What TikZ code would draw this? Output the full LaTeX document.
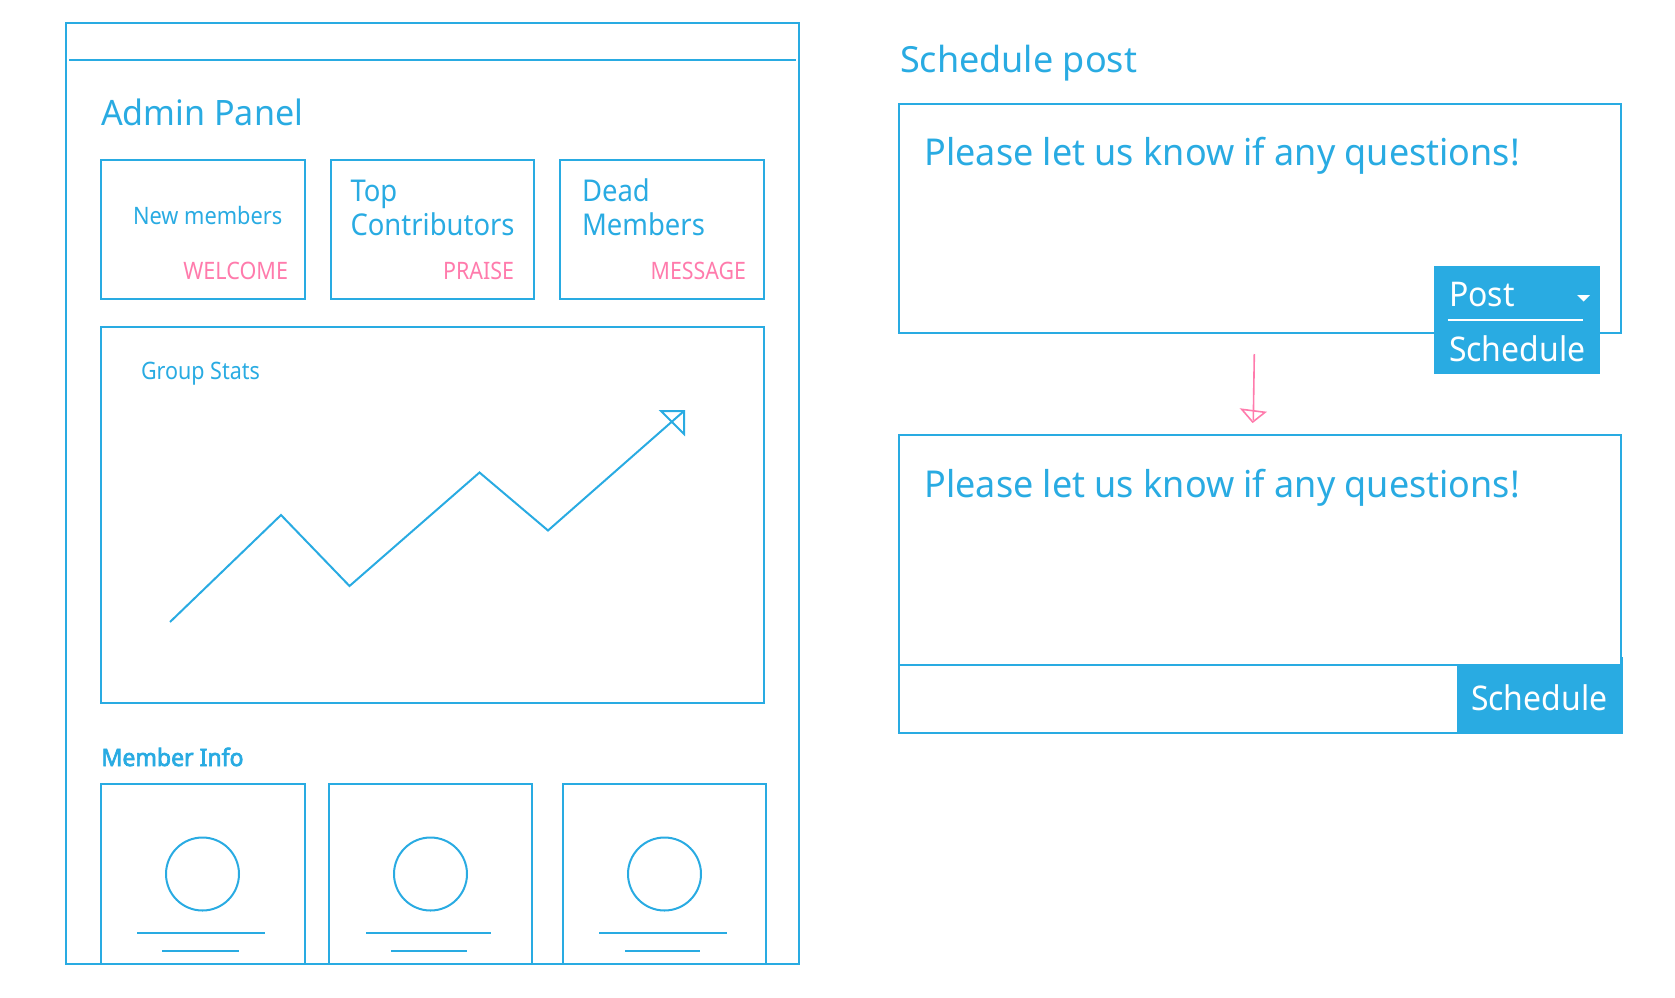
\documentclass[tikz,border=0pt]{standalone}
\usepackage{fontspec}
\setmainfont{Noto Sans}
\newfontfamily\heavyfont[FakeBold=3]{Noto Sans}
\definecolor{bl}{HTML}{29ABE2}
\definecolor{pk}{HTML}{FF7BAC}
\tikzset{
  x=1pt,y=-1pt,
  wire/.style={draw=bl,line width=2pt},
  frame/.style={wire,rectangle,anchor=north west,inner sep=0pt,outer sep=0pt,minimum width=#1},
  frame/.default=203.5pt,
  solid block/.style={fill=bl,rectangle,anchor=north west,inner sep=0pt,outer sep=0pt},
  ring/.style={wire,circle,minimum size=73pt,inner sep=0pt,outer sep=0pt},
  txt/.style={anchor=base west,inner sep=0pt,outer sep=0pt,text=bl},
  rtxt/.style={anchor=base east,inner sep=0pt,outer sep=0pt,text=pk},
  wtxt/.style={anchor=base west,inner sep=0pt,outer sep=0pt,text=white},
}
\newcommand{\fs}[1]{\fontsize{#1}{#1}\selectfont}
\begin{document}
\begin{tikzpicture}
\useasboundingbox (0,0) rectangle (1675,998);
% left panel
\node[frame=732.5pt,minimum height=940pt] (panel) at (66,23.5) {};
\coordinate (hl) at (69,60.5); \coordinate (hr) at (796,60.5);
\draw[wire] (hl) -- (hr);
\node[txt,font=\fs{35}] (admin) at (101,125) {\scalebox{0.974}[1]{Admin Panel}};
% stat cards
\node[frame,minimum height=139pt] (c1) at (101,160) {};
\node[frame,minimum height=139pt] (c2) at (330.5,160) {};
\node[frame,minimum height=139pt] (c3) at (560,160) {};
\node[txt,font=\fs{24}] (t1) at (133,224.5) {\scalebox{0.907}[1]{New members}};
\node[txt,font=\fs{30}] (t2a) at (350.5,201) {\scalebox{0.915}[1]{Top}};
\node[txt,font=\fs{30}] (t2b) at (350.5,235) {\scalebox{0.915}[1]{Contributors}};
\node[txt,font=\fs{30}] (t3a) at (582,201) {\scalebox{0.915}[1]{Dead}};
\node[txt,font=\fs{30}] (t3b) at (582,235) {\scalebox{0.915}[1]{Members}};
\node[rtxt,font=\fs{24}] (a1) at (288,279.5) {\scalebox{0.90}[1]{WELCOME}};
\node[rtxt,font=\fs{24}] (a2) at (514,279.5) {\scalebox{0.893}[1]{PRAISE}};
\node[rtxt,font=\fs{24}] (a3) at (746,279.5) {\scalebox{0.89}[1]{MESSAGE}};
% chart
\node[frame=662.5pt,minimum height=376pt] (chart) at (101,327) {};
\node[txt,font=\fs{24}] (gs) at (141,379) {\scalebox{0.896}[1]{Group Stats}};
\coordinate (p0) at (170,622);
\coordinate (p1) at (281,515);
\coordinate (p2) at (349.5,586);
\coordinate (p3) at (479.5,472.5);
\coordinate (p4) at (548,530.5);
\coordinate (p5) at (684,411);
\coordinate (h1) at (661,411);
\coordinate (h2) at (684,434);
\draw[wire] (p0) -- (p1) -- (p2) -- (p3) -- (p4) -- (p5);
\draw[wire,line join=miter] (h1) -- (p5) -- (h2) -- cycle;
% member cards
\node[txt,font=\heavyfont\fs{24}] (mi) at (101.5,766) {\scalebox{0.96}[1]{Member Info}};
\node[frame,minimum height=179.5pt] (m1) at (101,784) {};
\node[frame=203pt,minimum height=179.5pt] (m2) at (329,784) {};
\node[frame=203pt,minimum height=179.5pt] (m3) at (563,784) {};
\node[ring] (r1) at (202.5,874) {};
\node[ring] (r2) at (430.5,874) {};
\node[ring] (r3) at (664.5,874) {};
\foreach \n/\a/\b/\c/\d in {1/137/265/162/239,2/366/491/391/467,3/599/727/625/700}{
  \coordinate (la\n) at (\a,933); \coordinate (lb\n) at (\b,933);
  \coordinate (lc\n) at (\c,951); \coordinate (ld\n) at (\d,951);
  \draw[wire] (la\n) -- (lb\n);
  \draw[wire] (lc\n) -- (ld\n);
}
% right panel
\node[txt,font=\fs{36}] (sp) at (900,73) {Schedule post};
\node[frame=721.5pt,minimum height=229.5pt] (box1) at (899,103.5) {};
\node[txt,font=\fs{37}] (q1) at (924.5,165) {\scalebox{0.972}[1]{Please let us know if any questions!}};
\node[solid block,minimum width=165.5pt,minimum height=108pt] (menu) at (1434,266) {};
\node[wtxt,font=\fs{34}] (post) at (1449,306) {\scalebox{0.94}[1]{Post}};
\coordinate (ml) at (1447.5,320); \coordinate (mr) at (1583,320);
\draw[white,line width=2pt] (ml) -- (mr);
\coordinate (ca) at (1577,295); \coordinate (cb) at (1590,295); \coordinate (cc) at (1583.5,301.5);
\fill[white] (ca) -- (cb) -- (cc) -- cycle;
\node[wtxt,font=\fs{34}] (sch1) at (1449,361) {\scalebox{0.94}[1]{Schedule}};
% arrow
\coordinate (as) at (1254.3,354); \coordinate (ae) at (1253.3,420);
\coordinate (t1c) at (1241.7,409.3); \coordinate (t2c) at (1265,412.3); \coordinate (t3c) at (1252.7,422);
\draw[pk,line width=1.6pt] (as) -- (ae);
\draw[pk,line width=1.6pt] (t1c) -- (t2c) -- (t3c) -- cycle;
% lower box
\node[frame=721.5pt,minimum height=230pt] (box2) at (899,434.5) {};
\node[txt,font=\fs{37}] (q2) at (924.5,497) {\scalebox{0.972}[1]{Please let us know if any questions!}};
\node[frame=723pt,minimum height=68.5pt] (bar) at (899,664.5) {};
\node[solid block,minimum width=165pt,minimum height=67.5pt] (btn) at (1457,664) {};
\coordinate (na) at (1621.8,657); \coordinate (nb) at (1621.8,664);
\draw[wire] (na) -- (nb);
\node[wtxt,font=\fs{34}] (sch2) at (1471,710) {\scalebox{0.94}[1]{Schedule}};
\end{tikzpicture}
\end{document}
